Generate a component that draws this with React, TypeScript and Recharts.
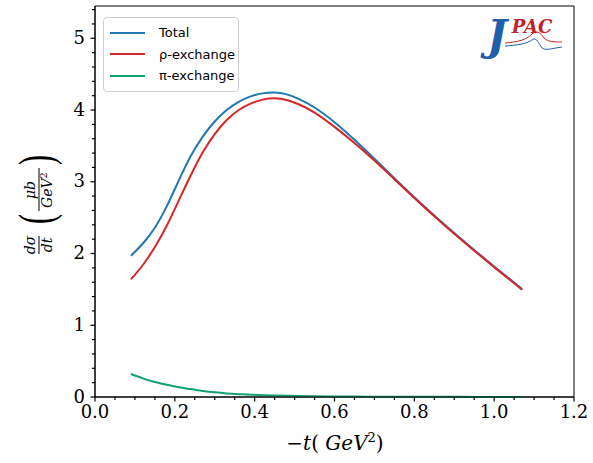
import { Legend, Line, LineChart, ReferenceArea, XAxis, YAxis } from 'recharts'

const tValues = [0.09, 0.12, 0.15, 0.18, 0.21, 0.24, 0.27, 0.3, 0.33, 0.36, 0.39, 0.42, 0.45, 0.48, 0.51, 0.55, 0.6, 0.65, 0.7, 0.75, 0.8, 0.85, 0.9, 0.95, 1.0, 1.07]
const totalValues = [1.97, 2.14, 2.36, 2.66, 3.02, 3.36, 3.63, 3.84, 4.0, 4.115, 4.19, 4.232, 4.243, 4.218, 4.155, 4.035, 3.83, 3.585, 3.32, 3.05, 2.785, 2.53, 2.285, 2.05, 1.82, 1.505]
const rhoValues = [1.64, 1.84, 2.09, 2.39, 2.74, 3.09, 3.41, 3.665, 3.86, 4.0, 4.09, 4.145, 4.165, 4.14, 4.08, 3.965, 3.765, 3.54, 3.295, 3.035, 2.775, 2.52, 2.275, 2.04, 1.81, 1.495]
const piValues = [0.32, 0.26, 0.21, 0.17, 0.135, 0.11, 0.085, 0.065, 0.05, 0.04, 0.032, 0.026, 0.021, 0.017, 0.014, 0.011, 0.008, 0.006, 0.005, 0.004, 0.003, 0.002, 0.002, 0.001, 0.001, 0.001]

// major ticks get a label, the rest are minor ticks
const xTicks = [0, 0.2, 0.4, 0.6, 0.8, 1.0, 1.2]
const xAllTicks = [0, 0.05, 0.1, 0.15, 0.2, 0.25, 0.3, 0.35, 0.4, 0.45, 0.5, 0.55, 0.6, 0.65, 0.7, 0.75, 0.8, 0.85, 0.9, 0.95, 1.0, 1.05, 1.1, 1.15, 1.2]
const yTicks = [0, 1, 2, 3, 4, 5]
const yAllTicks = [0, 0.2, 0.4, 0.6, 0.8, 1, 1.2, 1.4, 1.6, 1.8, 2, 2.2, 2.4, 2.6, 2.8, 3, 3.2, 3.4, 3.6, 3.8, 4, 4.2, 4.4, 4.6, 4.8, 5, 5.2, 5.4]

const seriesNames = ['Total', 'ρ-exchange', 'π-exchange']
const seriesColors = ['#1f77b4', '#d62728', '#13a06f']

const data = tValues.map((t, i) => ({
  t,
  total: totalValues[i],
  rho: rhoValues[i],
  pi: piValues[i],
}))

const serif = 'DejaVu Serif, serif'

function XTick({ x, y, payload }: any) {
  const major = xTicks.includes(payload.value)
  return (
    <g>
      <line x1={x} x2={x} y1={y} y2={y + (major ? 4.5 : 3)} stroke="#000" strokeWidth={1.2} />
      {major && (
        <text x={x} y={y + 21} textAnchor="middle" fontFamily={serif} fontSize={18} fill="#000">
          {payload.value.toFixed(1)}
        </text>
      )}
    </g>
  )
}

function YTick({ x, y, payload }: any) {
  const major = yTicks.includes(payload.value)
  return (
    <g>
      <line x1={x} x2={x - (major ? 4.5 : 3)} y1={y} y2={y} stroke="#000" strokeWidth={1.2} />
      {major && (
        <text x={x - 10} y={y + 5.5} textAnchor="end" fontFamily={serif} fontSize={18} fill="#000">
          {payload.value}
        </text>
      )}
    </g>
  )
}

function renderLegend() {
  return (
    <div
      style={{
        border: '1px solid #d0d0d0',
        borderRadius: 4,
        background: 'rgba(255,255,255,0.8)',
        padding: '4px 0 4px 6px',
        width: 128,
        fontFamily: 'DejaVu Sans, sans-serif',
        fontSize: 13,
        color: '#000',
      }}
    >
      {seriesNames.map((name, i) => (
        <div key={name} style={{ display: 'flex', alignItems: 'center', height: 21.5 }}>
          <div style={{ width: 35, height: 2, background: seriesColors[i], marginRight: 14 }} />
          <span>{name}</span>
        </div>
      ))}
    </div>
  )
}

function YLabel() {
  const frac = { fontFamily: serif, fontSize: 14, fontStyle: 'italic' as const, fill: '#000' }
  const paren = { fontFamily: 'Liberation Serif, serif', fontSize: 30, fill: '#000', textAnchor: 'middle' as const }
  return (
    <g transform="translate(39,206) rotate(-90)">
      <text x={-39} y={-4} textAnchor="middle" {...frac}>dσ</text>
      <line x1={-48} x2={-30} y1={0} y2={0} stroke="#000" strokeWidth={1} />
      <text x={-39} y={13} textAnchor="middle" {...frac}>dt</text>
      <g transform="translate(-13,0) scale(1,1.6)">
        <text x={0} y={8} {...paren}>(</text>
      </g>
      <text x={16} y={-4} textAnchor="middle" {...frac}>μb</text>
      <line x1={-5} x2={38} y1={0} y2={0} stroke="#000" strokeWidth={1} />
      <text x={16} y={13} textAnchor="middle" {...frac}>
        GeV<tspan dy={-5} fontSize={10} fontStyle="normal">2</tspan>
      </text>
      <g transform="translate(46,0) scale(1,1.6)">
        <text x={0} y={8} {...paren}>)</text>
      </g>
    </g>
  )
}

function Logo() {
  return (
    <g>
      <text x={497} y={50} textAnchor="middle" fontFamily={serif} fontSize={42} fontStyle="italic" fontWeight="bold" fill="#1f5ea8">J</text>
      <text x={532} y={33} textAnchor="middle" fontFamily={serif} fontSize={18} fontStyle="italic" fontWeight="bold" fill="#c8202a">PAC</text>
      <path d="M505,43 C518,42 526,40 532,34 C536,30 540,32 544,38 C548,42 554,42 562,42" fill="none" stroke="#c8202a" strokeWidth={1} />
      <path d="M505,46 C518,45 526,44 532,40 C536,36 539,44 542,48 C546,51 554,48 562,47" fill="none" stroke="#1f5ea8" strokeWidth={1} />
    </g>
  )
}

export default function App() {
  return (
    <div style={{ position: 'absolute', left: 0, top: 0, width: 593, height: 463, background: '#fff' }}>
      <LineChart width={593} height={463} data={data} margin={{ top: 6, right: 19, left: 65, bottom: 36 }}>
        <XAxis
          dataKey="t"
          type="number"
          domain={[0, 1.2]}
          ticks={xAllTicks}
          interval={0}
          tick={<XTick />}
          tickSize={0}
          tickMargin={0}
          tickLine={false}
          axisLine={{ stroke: '#000', strokeWidth: 1 }}
          height={30}
        />
        <YAxis
          type="number"
          domain={[0, 5.45]}
          ticks={yAllTicks}
          interval={0}
          tick={<YTick />}
          tickSize={0}
          tickMargin={0}
          tickLine={false}
          axisLine={{ stroke: '#000', strokeWidth: 1 }}
          width={30}
        />
        <ReferenceArea x1={0} x2={1.2} y1={0} y2={5.45} fill="none" stroke="#000" strokeWidth={1} ifOverflow="visible" />
        <Line type="natural" dataKey="total" name={seriesNames[0]} stroke={seriesColors[0]} strokeWidth={2} dot={false} isAnimationActive={false} />
        <Line type="natural" dataKey="rho" name={seriesNames[1]} stroke={seriesColors[1]} strokeWidth={2} dot={false} isAnimationActive={false} />
        <Line type="natural" dataKey="pi" name={seriesNames[2]} stroke={seriesColors[2]} strokeWidth={2} dot={false} isAnimationActive={false} />
        <Legend
          layout="vertical"
          align="center"
          verticalAlign="middle"
          wrapperStyle={{ left: 103, top: 17, width: 135 }}
          content={renderLegend}
        />
      </LineChart>
      <svg width={593} height={463} style={{ position: 'absolute', left: 0, top: 0, pointerEvents: 'none' }}>
        <YLabel />
        <Logo />
        <text x={335} y={450} textAnchor="middle" fontFamily={serif} fontSize={20} fill="#000">
          −<tspan fontStyle="italic">t</tspan>( <tspan fontStyle="italic">GeV</tspan>
          <tspan dy={-8} fontSize={13}>2</tspan>
          <tspan dy={8}>)</tspan>
        </text>
      </svg>
    </div>
  )
}
